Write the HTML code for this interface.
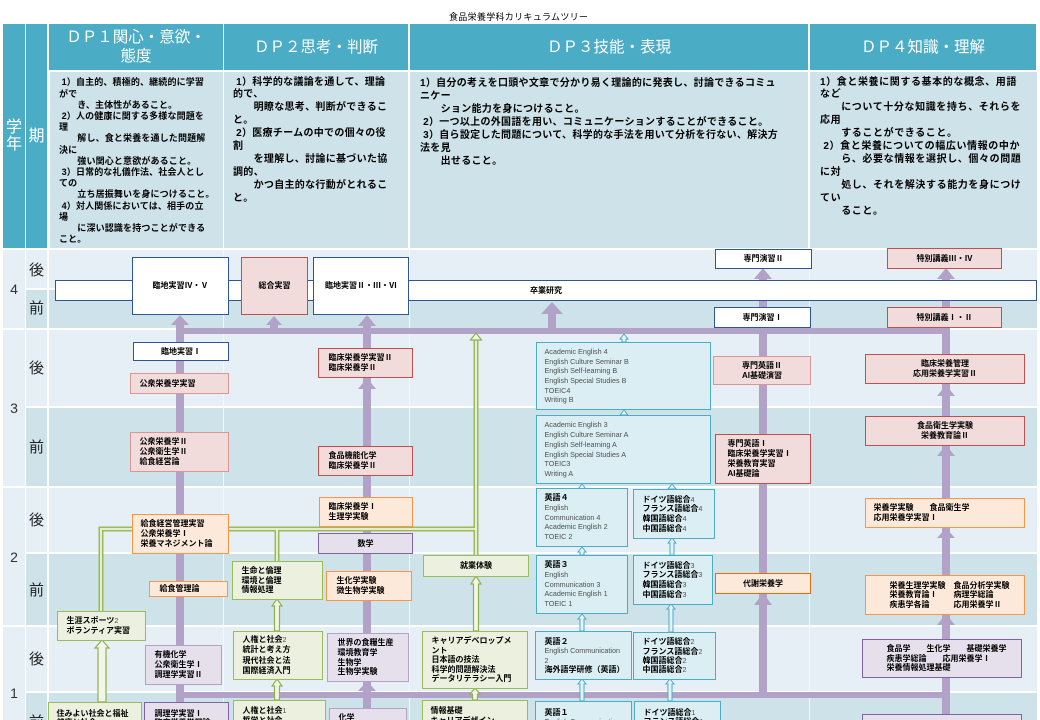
<!DOCTYPE html>
<html><head><meta charset="utf-8">
<style>
*{margin:0;padding:0;box-sizing:border-box}
html,body{width:1040px;height:720px;overflow:hidden;background:#fff}
body{position:relative;font-family:"Liberation Sans","Noto Sans CJK JP",sans-serif;}
.a{position:absolute}
.L{position:absolute;background:#e7eff6}
.D{position:absolute;background:#cee2e9}
.hd{position:absolute;background:#4bacc6;color:#fff;font-family:"Liberation Sans","Noto Sans CJK JP",sans-serif;font-size:15.5px;line-height:19px;text-align:center;display:flex;align-items:center;justify-content:center}
.ds{position:absolute;font-family:"Liberation Sans","Noto Sans CJK JP",sans-serif;font-weight:bold;color:#000;white-space:pre;z-index:1}
.yr{position:absolute;left:3px;width:22px;text-align:center;font-size:14px;line-height:14px;color:#333;font-family:"Liberation Sans",sans-serif}
.pd{position:absolute;left:26px;width:21px;text-align:center;font-size:15px;line-height:15px;color:#222;font-family:"Noto Sans CJK JP",sans-serif}
.vl{position:absolute;top:250px;width:1px;height:470px;background:#f4f8fb}
.bx{position:absolute;border:1.5px solid;display:flex;flex-direction:column;justify-content:center;font-size:8px;line-height:9.8px;white-space:pre;color:#000;z-index:3;font-weight:bold;font-family:"Liberation Sans","Noto Sans CJK JP",sans-serif}
.tp{justify-content:flex-start}
.c{text-align:center}
.nv{border-color:#2f5597;background:#fff}
.pk{border-color:#c0504d;background:#f2dcdb}
.pl{border-color:#d99694;background:#f2dcdb}
.or{border-color:#f79646;background:#fde9d9}
.od{border-color:#e46c0a;background:#fde9d9}
.gr{border-color:#9bbb59;background:#ebf1de}
.pu{border-color:#8064a2;background:#e5e0ec}
.pv{border-color:#b3a2c7;background:#e5e0ec}
.bl{border-color:#4bacc6;background:#daeef3}
.g{color:#505050;font-weight:normal;font-size:7.2px;font-family:"Liberation Sans",sans-serif}
svg{position:absolute;left:0;top:0;z-index:2}
</style></head><body>

<div class="a" style="left:449px;top:11px;font-size:9px;line-height:12px;letter-spacing:0.3px;font-family:'Liberation Sans','Noto Sans CJK JP',sans-serif;">食品栄養学科カリキュラムツリー</div>

<!-- header -->
<div class="hd" style="left:3px;top:24px;width:22px;height:224px;font-size:16px;line-height:17px;"><div>学<br>年</div></div>
<div class="hd" style="left:26px;top:24px;width:21px;height:224px;font-size:16px;"><div>期</div></div>
<div class="hd" style="left:49px;top:24px;width:174px;height:46px;"><div>ＤＰ１関心・意欲・<br>態度</div></div>
<div class="hd" style="left:224px;top:24px;width:184px;height:46px;"><div>ＤＰ２思考・判断</div></div>
<div class="hd" style="left:410px;top:24px;width:398px;height:46px;"><div>ＤＰ３技能・表現</div></div>
<div class="hd" style="left:810px;top:24px;width:226px;height:46px;"><div>ＤＰ４知識・理解</div></div>

<!-- description backgrounds -->
<div class="D" style="left:50px;top:72px;width:173px;height:176px;"></div>
<div class="D" style="left:224px;top:72px;width:184px;height:176px;"></div>
<div class="D" style="left:410px;top:72px;width:398px;height:176px;"></div>
<div class="D" style="left:810px;top:72px;width:227px;height:176px;"></div>

<div class="ds" style="left:59px;top:77.4px;font-size:9px;line-height:11.2px;letter-spacing:0.15px;"> 1）自主的、積極的、継続的に学習<br>がで<br>　　き、主体性があること。<br> 2）人の健康に関する多様な問題を<br>理<br>　　解し、食と栄養を通した問題解<br>決に<br>　　強い関心と意欲があること。<br> 3）日常的な礼儀作法、社会人とし<br>ての<br>　　立ち居振舞いを身につけること。<br> 4）対人関係においては、相手の立<br>場<br>　　に深い認識を持つことができる<br>こと。</div>
<div class="ds" style="left:233px;top:76.5px;font-size:10px;line-height:12.9px;letter-spacing:0.3px;"> 1）科学的な議論を通して、理論<br>的で、<br>　　明瞭な思考、判断ができるこ<br>と。<br> 2）医療チームの中での個々の役<br>割<br>　　を理解し、討論に基づいた協<br>調的、<br>　　かつ自主的な行動がとれるこ<br>と。</div>
<div class="ds" style="left:420px;top:76.5px;font-size:10px;line-height:13px;letter-spacing:0.3px;">1）自分の考えを口頭や文章で分かり易く理論的に発表し、討論できるコミュ<br>ニケー<br>　　ション能力を身につけること。<br> 2）一つ以上の外国語を用い、コミュニケーションすることができること。<br> 3）自ら設定した問題について、科学的な手法を用いて分析を行ない、解決方<br>法を見<br>　　出せること。</div>
<div class="ds" style="left:820px;top:76.5px;font-size:10px;line-height:12.9px;letter-spacing:0.6px;">1）食と栄養に関する基本的な概念、用語<br>など<br>　　について十分な知識を持ち、それらを<br>応用<br>　　することができること。<br> 2）食と栄養についての幅広い情報の中か<br>　　ら、必要な情報を選択し、個々の問題<br>に対<br>　　処し、それを解決する能力を身につけ<br>てい<br>　　ること。</div>

<!-- body grid -->
<div class="L" style="left:3px;top:250px;width:22px;height:78px;"></div>
<div class="L" style="left:3px;top:330px;width:22px;height:156px;"></div>
<div class="L" style="left:3px;top:488px;width:22px;height:137px;"></div>
<div class="L" style="left:3px;top:627px;width:22px;height:100px;"></div>

<div class="L" style="left:26px;top:250px;width:21px;height:38px;"></div>
<div class="D" style="left:26px;top:290px;width:21px;height:38px;"></div>
<div class="L" style="left:26px;top:330px;width:21px;height:76px;"></div>
<div class="D" style="left:26px;top:408px;width:21px;height:78px;"></div>
<div class="L" style="left:26px;top:488px;width:21px;height:64px;"></div>
<div class="D" style="left:26px;top:554px;width:21px;height:71px;"></div>
<div class="L" style="left:26px;top:627px;width:21px;height:64px;"></div>
<div class="D" style="left:26px;top:693px;width:21px;height:40px;"></div>

<div class="L" style="left:49px;top:250px;width:988px;height:38px;"></div>
<div class="D" style="left:49px;top:290px;width:988px;height:38px;"></div>
<div class="L" style="left:49px;top:330px;width:988px;height:76px;"></div>
<div class="D" style="left:49px;top:408px;width:988px;height:78px;"></div>
<div class="L" style="left:49px;top:488px;width:988px;height:64px;"></div>
<div class="D" style="left:49px;top:554px;width:988px;height:71px;"></div>
<div class="L" style="left:49px;top:627px;width:988px;height:64px;"></div>
<div class="D" style="left:49px;top:693px;width:988px;height:40px;"></div>

<div class="vl" style="left:223px;"></div>
<div class="vl" style="left:409px;"></div>
<div class="vl" style="left:809px;"></div>

<div class="yr" style="top:282px;">4</div>
<div class="yr" style="top:401px;">3</div>
<div class="yr" style="top:550px;">2</div>
<div class="yr" style="top:686px;">1</div>

<div class="pd" style="top:262px;">後</div>
<div class="pd" style="top:300px;">前</div>
<div class="pd" style="top:360px;">後</div>
<div class="pd" style="top:439px;">前</div>
<div class="pd" style="top:512px;">後</div>
<div class="pd" style="top:582px;">前</div>
<div class="pd" style="top:651px;">後</div>
<div class="pd" style="top:714px;">前</div>

<!-- connectors -->
<svg width="1040" height="720" viewBox="0 0 1040 720">
<g fill="#b3a2c7">
<rect x="176" y="322" width="8" height="400"/>
<polygon points="180,315 189,325 171,325"/>
<rect x="176" y="328" width="774" height="6"/>
<rect x="270" y="324" width="8" height="6"/>
<polygon points="274,316 282,325 266,325"/>
<rect x="363" y="322" width="8" height="400"/>
<polygon points="367,315 376,326 358,326"/>
<polygon points="367,378 376,389 358,389"/>
<polygon points="367,681 376,691 358,691"/>
<rect x="548" y="313" width="8" height="17"/>
<polygon points="552,302 563,314 541,314"/>
<rect x="759" y="276" width="8" height="422"/>
<polygon points="763,268 772,279 754,279"/>
<polygon points="763,593 772,605 754,605"/>
<rect x="942" y="276" width="8" height="446"/>
<polygon points="946,268 955,279 937,279"/>
<polygon points="946,385 955,396 937,396"/>
<polygon points="946,445 955,456 937,456"/>
<polygon points="946,528 955,538 937,538"/>
<polygon points="946,614 955,625 937,625"/>
<rect x="176" y="692" width="774" height="6"/>
</g>
<g fill="none" stroke-linejoin="miter">
<path d="M101,611 V529 H476 V339 M277,529 V561 M476,529 V555" stroke="#9bbb59" stroke-width="5"/>
<path d="M101,611 V529 H476 V339 M277,529 V561 M476,529 V555" stroke="#eef3e2" stroke-width="1.8"/>
</g>
<g fill="#f1f6e6" stroke="#8fb050" stroke-width="1.2">
<polygon points="476,333 481.5,340 470.5,340"/>
<polygon points="102,640 109,648 106,648 106,702 98,702 98,648 95,648"/>
<polygon points="277,599 282,606 279.5,606 279.5,631 274.5,631 274.5,606 272,606"/>
<polygon points="476,576 481,584 478.5,584 478.5,631 473.5,631 473.5,584 471,584"/>
<polygon points="277,679 282,686 279.5,686 279.5,700 274.5,700 274.5,686 272,686"/>
<polygon points="475,688 480,694 477.5,694 477.5,700 472.5,700 472.5,694 470,694"/>
</g>
<g fill="#e6f4f8" stroke="#4bacc6" stroke-width="1">
<polygon points="624,334 628,339 626,339 626,342 622,342 622,339 620,339"/>
<polygon points="624,410 628,415 620,415"/>
<polygon points="582,484 586,489 578,489"/>
<polygon points="672,484 676,489 668,489"/>
<polygon points="582,547 586,552 584,552 584,555 580,555 580,552 578,552"/>
<polygon points="672,538 676,543 674,543 674,555 670,555 670,543 668,543"/>
<polygon points="582,614 586,619 584,619 584,631 580,631 580,619 578,619"/>
<polygon points="671,604 675,609 673,609 673,632 669,632 669,609 667,609"/>
<polygon points="582,679 586,684 584,684 584,701 580,701 580,684 578,684"/>
<polygon points="670,679 674,684 672,684 672,701 668,701 668,684 666,684"/>
</g>
</svg>

<!-- year 4 -->
<div class="bx nv c" style="left:55px;top:280px;width:982px;height:21px;"><div>卒業研究</div></div>
<div class="bx nv c" style="left:132px;top:257px;width:97px;height:58px;"><div>臨地実習Ⅳ・Ⅴ</div></div>
<div class="bx pk c" style="left:241px;top:257px;width:67px;height:58px;"><div>総合実習</div></div>
<div class="bx nv c" style="left:313px;top:257px;width:96px;height:58px;"><div>臨地実習Ⅱ・Ⅲ・Ⅵ</div></div>
<div class="bx nv c" style="left:715px;top:249px;width:97px;height:20px;"><div>専門演習Ⅱ</div></div>
<div class="bx nv c" style="left:714px;top:307px;width:97px;height:21px;"><div>専門演習Ⅰ</div></div>
<div class="bx pk c" style="left:887px;top:248px;width:115px;height:21px;"><div>特別講義Ⅲ・Ⅳ</div></div>
<div class="bx pk c" style="left:887px;top:307px;width:115px;height:21px;"><div>特別講義Ⅰ・Ⅱ</div></div>

<!-- year 3 -->
<div class="bx nv c" style="left:133px;top:342px;width:96px;height:19px;"><div>臨地実習Ⅰ</div></div>
<div class="bx pl" style="left:130px;top:373px;width:99px;height:21px;padding-left:8.5px;"><div>公衆栄養学実習</div></div>
<div class="bx pk" style="left:318px;top:348px;width:95px;height:30px;padding-left:9.5px;"><div>臨床栄養学実習Ⅱ<br>臨床栄養学Ⅱ</div></div>
<div class="bx bl" style="left:536px;top:342px;width:175px;height:68px;padding-left:7.5px;line-height:9.6px;"><div class="g">Academic English 4<br>English Culture Seminar B<br>English Self-learning B<br>English Special Studies B<br>TOEIC4<br>Writing B</div></div>
<div class="bx pl c" style="left:713px;top:356px;width:98px;height:29px;"><div>専門英語Ⅱ<br>AI基礎演習</div></div>
<div class="bx pk c" style="left:865px;top:354px;width:160px;height:30px;"><div>臨床栄養管理<br>応用栄養学実習Ⅱ</div></div>

<div class="bx pl" style="left:130px;top:432px;width:99px;height:40px;padding-left:8.5px;"><div>公衆栄養学Ⅱ<br>公衆衛生学Ⅱ<br>給食経営論</div></div>
<div class="bx pk" style="left:318px;top:446px;width:95px;height:30px;padding-left:9.5px;"><div>食品機能化学<br>臨床栄養学Ⅱ</div></div>
<div class="bx bl" style="left:536px;top:415px;width:175px;height:69px;padding-left:7.5px;line-height:9.7px;"><div class="g">Academic English 3<br>English Culture Seminar A<br>English Self-learning A<br>English Special Studies A<br>TOEIC3<br>Writing A</div></div>
<div class="bx pk" style="left:715px;top:434px;width:96px;height:50px;padding-left:11.5px;line-height:10px;"><div>専門英語Ⅰ<br>臨床栄養学実習Ⅰ<br>栄養教育実習<br>AI基礎論</div></div>
<div class="bx pk c" style="left:865px;top:416px;width:160px;height:30px;"><div>食品衛生学実験<br>栄養教育論Ⅱ</div></div>

<!-- year 2 -->
<div class="bx or" style="left:132px;top:514px;width:97px;height:40px;padding-left:7.5px;"><div>給食経営管理実習<br>公衆栄養学Ⅰ<br>栄養マネジメント論</div></div>
<div class="bx or" style="left:319px;top:497px;width:94px;height:30px;padding-left:8.5px;"><div>臨床栄養学Ⅰ<br>生理学実験</div></div>
<div class="bx pu c" style="left:318px;top:533px;width:95px;height:21px;"><div>数学</div></div>
<div class="bx bl" style="left:536px;top:488px;width:92px;height:59px;padding-left:7.5px;line-height:9.7px;"><div>英語４<br><span class="g">English</span><br><span class="g">Communication 4</span><br><span class="g">Academic English 2</span><br><span class="g">TOEIC 2</span></div></div>
<div class="bx bl" style="left:633px;top:489px;width:82px;height:50px;padding-left:8.5px;line-height:9.7px;"><div>ドイツ語総合<span class="g">4</span><br>フランス語総合<span class="g">4</span><br>韓国語総合<span class="g">4</span><br>中国語総合<span class="g">4</span></div></div>
<div class="bx or" style="left:865px;top:498px;width:160px;height:30px;padding-left:7.5px;"><div>栄養学実験　　食品衛生学<br>応用栄養学実習Ⅰ</div></div>

<div class="bx or" style="left:149px;top:581px;width:79px;height:16px;padding-left:9.5px;"><div>給食管理論</div></div>
<div class="bx gr" style="left:232px;top:561px;width:91px;height:39px;padding-left:8.5px;"><div>生命と倫理<br>環境と倫理<br>情報処理</div></div>
<div class="bx or" style="left:326px;top:571px;width:86px;height:30px;padding-left:9.5px;"><div>生化学実験<br>微生物学実験</div></div>
<div class="bx gr" style="left:57px;top:611px;width:89px;height:30px;padding-left:8.5px;"><div>生涯スポーツ<span class="g">2</span><br>ボランティア実習</div></div>
<div class="bx gr c" style="left:423px;top:555px;width:106px;height:22px;"><div>就業体験</div></div>
<div class="bx bl" style="left:536px;top:555px;width:92px;height:59px;padding-left:7.5px;line-height:9.7px;"><div>英語３<br><span class="g">English</span><br><span class="g">Communication 3</span><br><span class="g">Academic English 1</span><br><span class="g">TOEIC 1</span></div></div>
<div class="bx bl" style="left:633px;top:555px;width:80px;height:50px;padding-left:8.5px;line-height:9.7px;"><div>ドイツ語総合<span class="g">3</span><br>フランス語総合<span class="g">3</span><br>韓国語総合<span class="g">3</span><br>中国語総合<span class="g">3</span></div></div>
<div class="bx od c" style="left:715px;top:573px;width:96px;height:21px;"><div>代謝栄養学</div></div>
<div class="bx or" style="left:865px;top:575px;width:160px;height:40px;padding-left:23.5px;line-height:9.4px;"><div>栄養生理学実験　食品分析学実験<br>栄養教育論Ⅰ　　病理学総論<br>疾患学各論　　　応用栄養学Ⅱ</div></div>

<!-- year 1 -->
<div class="bx pv" style="left:145px;top:645px;width:77px;height:40px;padding-left:8.5px;"><div>有機化学<br>公衆衛生学Ⅰ<br>調理学実習Ⅱ</div></div>
<div class="bx gr" style="left:233px;top:631px;width:90px;height:49px;padding-left:8.5px;line-height:10.2px;"><div>人権と社会<span class="g">2</span><br>統計と考え方<br>現代社会と法<br>国際経済入門</div></div>
<div class="bx pv" style="left:327px;top:633px;width:82px;height:49px;padding-left:9.5px;line-height:9.8px;"><div>世界の食糧生産<br>環境教育学<br>生物学<br>生物学実験</div></div>
<div class="bx gr" style="left:422px;top:631px;width:106px;height:58px;padding-left:8.5px;line-height:9.5px;"><div>キャリアデベロップメ<br>ント<br>日本語の技法<br>科学的問題解決法<br>データリテラシー入門</div></div>
<div class="bx bl" style="left:535px;top:631px;width:97px;height:49px;padding-left:8.5px;line-height:9.5px;"><div>英語２<br><span class="g">English Communication</span><br><span class="g">2</span><br>海外語学研修（英語）</div></div>
<div class="bx bl" style="left:633px;top:632px;width:83px;height:48px;padding-left:8.5px;line-height:9.3px;"><div>ドイツ語総合<span class="g">2</span><br>フランス語総合<span class="g">2</span><br>韓国語総合<span class="g">2</span><br>中国語総合<span class="g">2</span></div></div>
<div class="bx pu" style="left:862px;top:639px;width:160px;height:39px;padding-left:23.5px;line-height:9.5px;"><div>食品学　　生化学　　基礎栄養学<br>疾患学総論　　応用栄養学Ⅰ<br>栄養情報処理基礎</div></div>

<div class="bx gr tp" style="left:48px;top:702px;width:94px;height:40px;padding-left:7.5px;padding-top:5.5px;"><div>住みよい社会と福祉<br>健康と社会</div></div>
<div class="bx pu tp" style="left:144px;top:702px;width:85px;height:40px;padding-left:9.5px;padding-top:5.5px;"><div>調理学実習Ⅰ<br>臨床栄養学概論</div></div>
<div class="bx gr tp" style="left:233px;top:700px;width:93px;height:40px;padding-left:8.5px;padding-top:5px;"><div>人権と社会<span class="g">1</span><br>哲学と社会</div></div>
<div class="bx pv tp" style="left:329px;top:708px;width:78px;height:30px;padding-left:8.5px;padding-top:4px;"><div>化学</div></div>
<div class="bx gr tp" style="left:422px;top:700px;width:106px;height:40px;padding-left:7.5px;padding-top:5px;"><div>情報基礎<br>キャリアデザイン</div></div>
<div class="bx bl tp" style="left:535px;top:701px;width:97px;height:40px;padding-left:8.5px;padding-top:5.5px;"><div>英語１<br><span class="g">English Communication</span></div></div>
<div class="bx bl tp" style="left:634px;top:701px;width:87px;height:40px;padding-left:8.5px;padding-top:5.5px;"><div>ドイツ語総合<span class="g">1</span><br>フランス語総合<span class="g">1</span></div></div>
<div class="bx pu tp" style="left:862px;top:714px;width:160px;height:30px;"><div></div></div>

</body></html>
